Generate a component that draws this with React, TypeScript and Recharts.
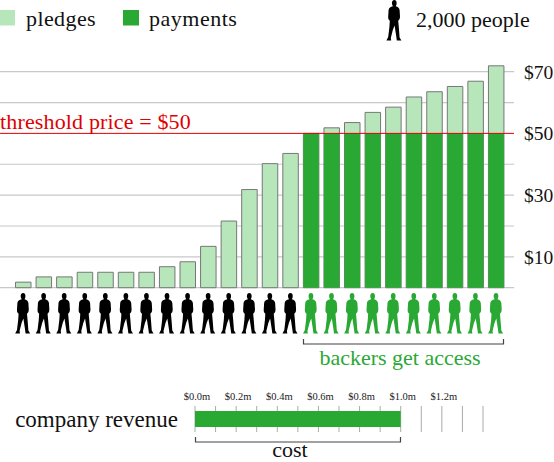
import { BarChart, Bar, XAxis, YAxis, CartesianGrid, ReferenceLine } from 'recharts'

const FONT = '"Liberation Serif", serif'
const PALE = '#b8e6bb'
const GREEN = '#2aa834'
const RED = '#e00000'

const people = ['p1', 'p2', 'p3', 'p4', 'p5', 'p6', 'p7', 'p8', 'p9', 'p10', 'p11', 'p12', 'p13', 'p14', 'p15', 'p16', 'p17', 'p18', 'p19', 'p20', 'p21', 'p22', 'p23', 'p24']
const pledges = [1.8, 3.5, 3.5, 5, 5, 5, 5, 6.8, 8.4, 13.4, 21.6, 31.8, 40.2, 43.5, 50, 51.8, 53.5, 56.8, 58.5, 61.8, 63.5, 65.2, 66.9, 71.9]
const payments = [null, null, null, null, null, null, null, null, null, null, null, null, null, null, 50, 50, 50, 50, 50, 50, 50, 50, 50, 50]
const priceTicks = [10, 30, 50, 70]
// the $50 line is the red threshold, so no grey line under it
const priceGrid = [0, 10, 20, 30, 40, 60, 70]
const threshold = 50

const revenueTicks = [0, 0.2, 0.4, 0.6, 0.8, 1.0, 1.2]
const revenueGrid = [0, 0.1, 0.2, 0.3, 0.4, 0.5, 0.6, 0.7, 0.8, 0.9, 1.0, 1.1, 1.2, 1.3, 1.4]
const revenue = [1.0]

const table = people.map((name, i) => ({ name, pledges: pledges[i], payments: payments[i] }))
const revenueTable = [{ name: 'company revenue', revenue: revenue[0] }]

const PERSON =
  'M-1.1,6.3 L-2,4.2 C-2.4,1.4 -1.2,0 0.3,0 C1.9,0 3,1.4 2.6,4.2 L1.8,6.3 C3.8,6.9 5.2,7.8 5.6,10 L6,16.5 C6,18.6 5.2,20 4.2,20.8 L4.8,27 L5.6,37.5 L7.4,40.6 L2.8,40.6 L2.2,36 L0.6,25.5 L-1.2,30 L-3.2,38 L-2.8,40.6 L-7.6,40.6 L-5.8,37 L-4.6,27 L-4.2,20.8 C-5.2,20 -6,18.6 -5.8,16.5 L-5.4,10 C-5.1,7.8 -3.4,6.9 -1.1,6.3 Z'

function PersonTick({ x, index }: any) {
  const fill = payments[index] ? GREEN : '#000'
  return <path d={PERSON} fill={fill} transform={`translate(${x},293)`} />
}

export default function App() {
  return (
    <div style={{ position: 'absolute', left: 0, top: 0, width: 554, height: 462, overflow: 'hidden', fontFamily: FONT }}>
      <div style={{ position: 'absolute', left: 0, top: 0 }}>
        <BarChart
          width={554}
          height={340}
          data={table}
          barSize={15.5}
          barGap={-15.5}
          margin={{ top: 40.8, right: 0, bottom: 0, left: 0 }}
        >
          <CartesianGrid horizontal vertical={false} horizontalValues={priceGrid} stroke="#c8c8c8" strokeWidth={1.2} />
          <XAxis
            dataKey="name"
            height={52.3}
            interval={0}
            axisLine={false}
            tickLine={false}
            padding={{ left: 12.5, right: 8 }}
            tick={PersonTick}
          />
          <YAxis
            orientation="right"
            width={40}
            domain={[0, 80]}
            ticks={priceTicks}
            interval={0}
            axisLine={false}
            tickLine={false}
            tickMargin={4}
            tickFormatter={v => `$${v}`}
            tick={{ fill: '#111', fontSize: 19.5, fontFamily: FONT }}
          />
          <ReferenceLine
            y={threshold}
            stroke={RED}
            strokeWidth={1}
            label={{ value: 'threshold price = $50', position: 'insideBottomLeft', offset: 4, dx: -4, letterSpacing: 0.15, fill: RED, fontSize: 22, fontFamily: FONT }}
          />
          <Bar dataKey="pledges" fill={PALE} stroke="#777" strokeWidth={1} isAnimationActive={false} />
          <Bar dataKey="payments" fill={GREEN} isAnimationActive={false} />
        </BarChart>
      </div>

      <div style={{ position: 'absolute', left: 0, top: 380 }}>
        <BarChart
          width={554}
          height={82}
          data={revenueTable}
          layout="vertical"
          barSize={16}
          margin={{ top: 0, right: 71, bottom: 30, left: 0 }}
        >
          <CartesianGrid horizontal={false} vertical verticalValues={revenueGrid} stroke="#aaa" strokeWidth={1} />
          <XAxis
            type="number"
            orientation="top"
            height={26}
            domain={[0, 1.4]}
            ticks={revenueTicks}
            interval={0}
            axisLine={false}
            tickLine={false}
            tickMargin={0}
            tickFormatter={v => `$${v.toFixed(1)}m`}
            tick={{ fill: '#222', fontSize: 10.5, fontFamily: FONT, dx: 2 }}
          />
          <YAxis
            type="category"
            dataKey="name"
            width={195}
            axisLine={false}
            tickLine={false}
            tickMargin={11}
            tick={{ fill: '#111', fontSize: 23, fontFamily: FONT }}
          />
          <Bar dataKey="revenue" fill={GREEN} isAnimationActive={false} />
        </BarChart>
      </div>

      <svg width={554} height={462} style={{ position: 'absolute', left: 0, top: 0, pointerEvents: 'none' }} fontFamily={FONT}>
        <rect x={0} y={10} width={15} height={15.5} fill={PALE} />
        <text x={26} y={26} fontSize={22} letterSpacing={0.4} fill="#111">pledges</text>
        <rect x={123} y={10} width={16} height={15.5} fill={GREEN} />
        <text x={149} y={26} fontSize={22} letterSpacing={0.5} fill="#111">payments</text>
        <path d={PERSON} fill="#000" transform="translate(394,0)" />
        <text x={416} y={27} fontSize={22} fill="#111">2,000 people</text>

        <path d="M303.5,339 V344 H503.5 V339" fill="none" stroke="#444" strokeWidth={1.2} />
        <text x={400} y={365} textAnchor="middle" fontSize={22} fill={GREEN}>backers get access</text>

        <path d="M195.5,437 V442 H400.5 V437" fill="none" stroke="#444" strokeWidth={1.2} />
        <text x={290} y={457} textAnchor="middle" fontSize={22} fill="#111">cost</text>
      </svg>
    </div>
  )
}
